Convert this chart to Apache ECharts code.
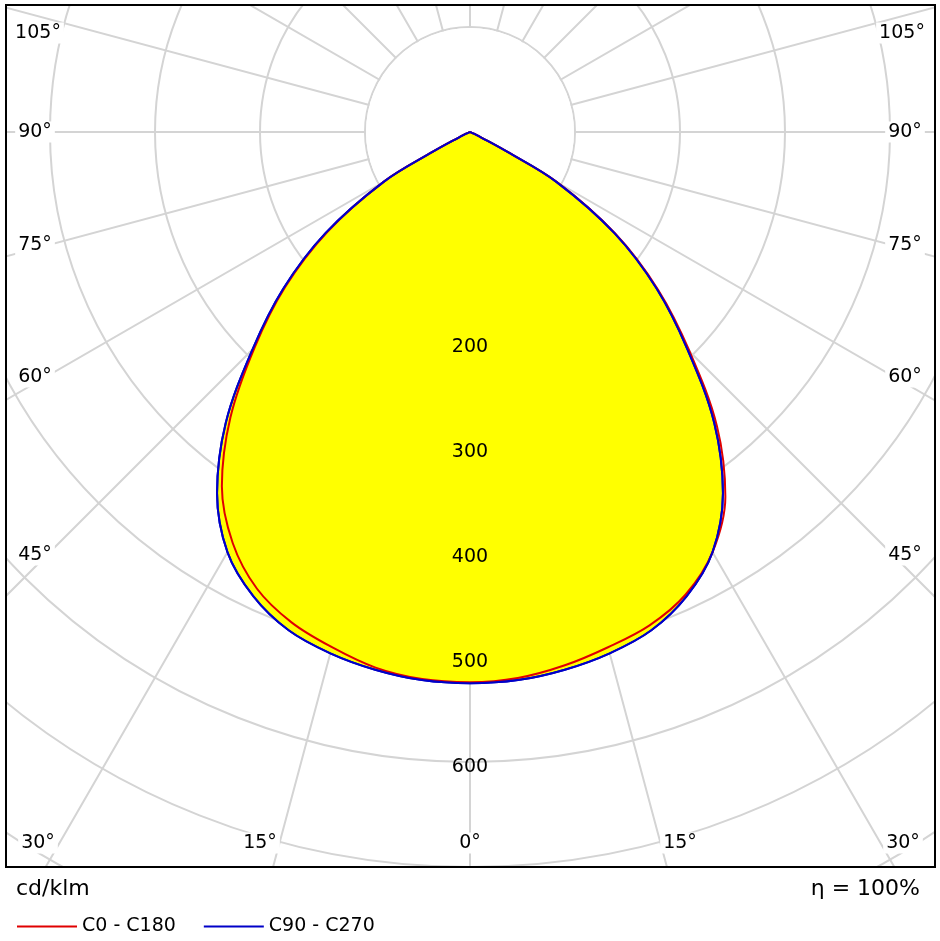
<!DOCTYPE html>
<html>
<head>
<meta charset="utf-8">
<script src="https://cdn.jsdelivr.net/npm/echarts@6/dist/echarts.min.js"></script>
<style>html,body{margin:0;padding:0;background:#fff}</style>
</head>
<body>
<div id="main" style="width:940px;height:941px;"></div>
<script>
// gamma angles (deg) and intensities in cd/klm
var gammas = [0, 5, 10, 15, 20, 25, 30, 35, 40, 45, 50, 55, 60, 62, 64, 66, 70, 80, 90];
var c0Left = [524, 523, 518, 508, 497, 480, 452, 412, 355, 290, 230, 166, 95, 40, 12, 4, 1, 0, 0];
var c0Right = [524, 522, 516, 508, 500, 486, 462, 424, 366, 296, 234, 169, 96, 41, 12, 4, 1, 0, 0];
var c90 = [525, 524, 520, 514, 505, 488, 462, 420, 362, 293, 232, 168, 95, 40, 12, 4, 1, 0, 0];
var ringLabels = [200, 300, 400, 500, 600];
var angleLabels = [
  ['105°', 38, 33], ['105°', 902, 33], ['90°', 35, 132], ['90°', 905, 132],
  ['75°', 35, 245], ['75°', 905, 245], ['60°', 35, 377], ['60°', 905, 377],
  ['45°', 35, 555], ['45°', 905, 555], ['30°', 38, 843], ['30°', 903, 843],
  ['15°', 260, 843], ['15°', 680, 843], ['0°', 470, 843]
];

function curve(left, right) {
  var pts = [];
  for (var i = gammas.length - 1; i >= 0; i--) pts.push([left[i], gammas[i]]);
  for (var j = 1; j < gammas.length; j++) pts.push([right[j], 360 - gammas[j]]);
  return pts;
}

var chart = echarts.init(document.getElementById('main'));
var font = 'DejaVu Sans';
var graphics = [
  { type: 'rect', z: 50, shape: { x: 0, y: 868, width: 940, height: 80 }, style: { fill: '#fff' } },
  { type: 'rect', z: 50, shape: { x: 0, y: 0, width: 5, height: 941 }, style: { fill: '#fff' } },
  { type: 'rect', z: 50, shape: { x: 935, y: 0, width: 5, height: 941 }, style: { fill: '#fff' } },
  { type: 'rect', z: 50, shape: { x: 0, y: 0, width: 940, height: 5 }, style: { fill: '#fff' } },
  { type: 'rect', z: 51, shape: { x: 6, y: 5, width: 929, height: 862 }, style: { fill: null, stroke: '#000', lineWidth: 2 } },
  { type: 'text', z: 52, left: 16, top: 878, style: { text: 'cd/klm', font: '22px ' + font, fill: '#000' } },
  { type: 'text', z: 52, right: 20, top: 878, style: { text: 'η = 100%', font: '22px ' + font, fill: '#000' } }
];
angleLabels.forEach(function (a) {
  graphics.push({ type: 'text', z: 52, x: a[1], y: a[2], style: {
    text: a[0], font: '19px ' + font, fill: '#000', align: 'center', verticalAlign: 'middle',
    backgroundColor: '#fff', padding: [1, 3] } });
});

var option = {
  animation: false,
  polar: { center: [470, 132], radius: 945 },
  angleAxis: {
    type: 'value', min: 0, max: 360, interval: 15, startAngle: 270, clockwise: true,
    axisLine: { show: false }, axisTick: { show: false }, axisLabel: { show: false },
    splitLine: { lineStyle: { color: '#d4d4d4', width: 2 } }
  },
  radiusAxis: {
    type: 'value', min: 0, max: 900, interval: 100,
    axisLine: { show: false }, axisTick: { show: false }, axisLabel: { show: false },
    splitLine: { lineStyle: { color: '#d4d4d4', width: 2 } }
  },
  legend: {
    z: 60, left: 12, top: 912, itemGap: 28, itemWidth: 60, itemHeight: 2, icon: 'rect',
    textStyle: { fontFamily: font, fontSize: 19, color: '#000' },
    data: ['C0 - C180', 'C90 - C270']
  },
  series: [
    { type: 'pie', z: 1, silent: true, center: [470, 132], radius: [0, 104],
      label: { show: false }, data: [{ value: 1, itemStyle: { color: '#fff' } }] },
    { name: 'C90 - C270', type: 'line', coordinateSystem: 'polar', z: 2, symbol: 'none', smooth: 0.35,
      data: curve(c90, c90), lineStyle: { color: '#0000c8', width: 2 },
      itemStyle: { color: '#0000c8' }, areaStyle: { color: '#ffff00', opacity: 1 } },
    { name: 'C0 - C180', type: 'line', coordinateSystem: 'polar', z: 3, symbol: 'none', smooth: 0.35,
      data: curve(c0Left, c0Right), lineStyle: { color: '#e00000', width: 2 },
      itemStyle: { color: '#e00000' } },
    { name: 'C90 - C270 ', type: 'line', coordinateSystem: 'polar', z: 4, symbol: 'none', smooth: 0.35,
      data: curve(c90, c90), lineStyle: { color: '#0000c8', width: 2 } }
  ],
  graphic: graphics
};
chart.setOption(option);

// ring value labels along the 0° direction
var extra = ringLabels.map(function (v) {
  var p = chart.convertToPixel({ polarIndex: 0 }, [v, 0]);
  return { type: 'text', z: 40, x: p[0], y: p[1] + 5, style: {
    text: String(v), font: '19px ' + font, fill: '#000', align: 'center', verticalAlign: 'middle' } };
});
chart.setOption({ graphic: graphics.concat(extra) });
</script>
</body>
</html>
